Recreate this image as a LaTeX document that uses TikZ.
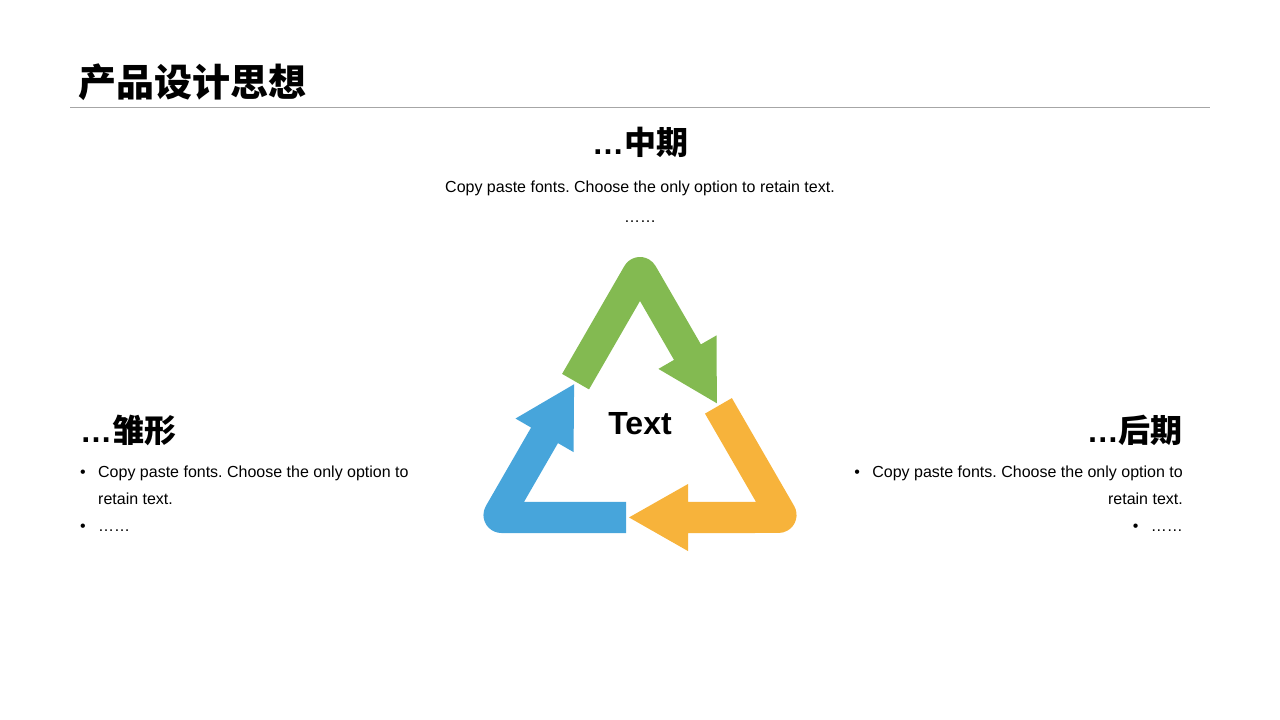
\documentclass[tikz,border=0pt]{standalone}
\usepackage{fontspec}
\setmainfont{Liberation Sans}
\newfontfamily\cjk{Noto Sans CJK SC}
\usepackage{xcolor}
\usepackage{tikz}
\usetikzlibrary{positioning}
\frenchspacing
\definecolor{arrowgreen}{HTML}{83BA51}
\definecolor{arroworange}{HTML}{F7B33B}
\definecolor{arrowblue}{HTML}{47A5DB}
\newcommand{\bul}{\makebox[18pt][l]{\textbullet}}
\tikzstyle{titletext} = [font=\cjk\bfseries\fontsize{38}{44}\selectfont, inner sep=0pt, anchor=west]
\tikzstyle{headtext} = [font=\bfseries\fontsize{32}{38}\selectfont, inner sep=0pt]
\tikzstyle{bodytext} = [font=\fontsize{16}{27}\selectfont, inner sep=0pt]
\tikzstyle{centertext} = [font=\bfseries\fontsize{32}{38}\selectfont, inner sep=0pt]
\tikzstyle{titlerule} = [draw, gray!70, line width=1pt]
\tikzset{bendarrow/.pic={
  \fill [pic actions] (-51,45.6) -- (-77.9,61.1) -- (-15.6,169)
    arc [start angle=150, end angle=30, radius=18] -- (60.9,90.6)
    -- (76.5,99.6) -- (76.9,31.7) -- (18.4,66.1) -- (34,75.1) -- (0,134) -- cycle;
}}

\begin{document}
\begin{tikzpicture}[x=1pt, y=1pt, node distance=46pt]
    \useasboundingbox (0,0) rectangle (1280,720);
    % Title
    \node [titletext] (title) at (78,638) {产品设计思想};
    \coordinate (ruleL) at (70,612);
    \coordinate (ruleR) at (1210,612);
    \path [titlerule] (ruleL) -- (ruleR);

    % Top block
    \node [headtext] (midhead) at (640,578) {…{\cjk 中期}};
    \node [bodytext, below of=midhead] (midbody) {Copy paste fonts. Choose the only option to retain text.};
    \node [bodytext, below of=midbody, node distance=34pt] (middots) {……};

    % Left block
    \node [headtext, anchor=west] (lefthead) at (80,290) {…{\cjk 雏形}};
    \node [bodytext, anchor=base west] (leftA) at (80,242) {\bul Copy paste fonts. Choose the only option to};
    \node [bodytext, anchor=base west] (leftB) at (98,215) {retain text.};
    \node [bodytext, anchor=base west] (leftC) at (80,188) {\bul ……};

    % Right block
    \node [headtext, anchor=east] (righthead) at (1183,290) {…{\cjk 后期}};
    \node [bodytext, anchor=base east] (rightA) at (1183,242) {\bul Copy paste fonts. Choose the only option to};
    \node [bodytext, anchor=base east] (rightB) at (1183,215) {retain text.};
    \node [bodytext, anchor=base east] (rightC) at (1183,188) {\bul ……};

    % Arrow triangle
    \coordinate (tricenter) at (640,285);
    \pic [fill=arrowgreen] at (tricenter) {bendarrow};
    \pic [fill=arroworange, rotate=-120] at (tricenter) {bendarrow};
    \pic [fill=arrowblue, rotate=120] at (tricenter) {bendarrow};
    \node [centertext] (ctext) at (640,296) {Text};
\end{tikzpicture}
\end{document}
